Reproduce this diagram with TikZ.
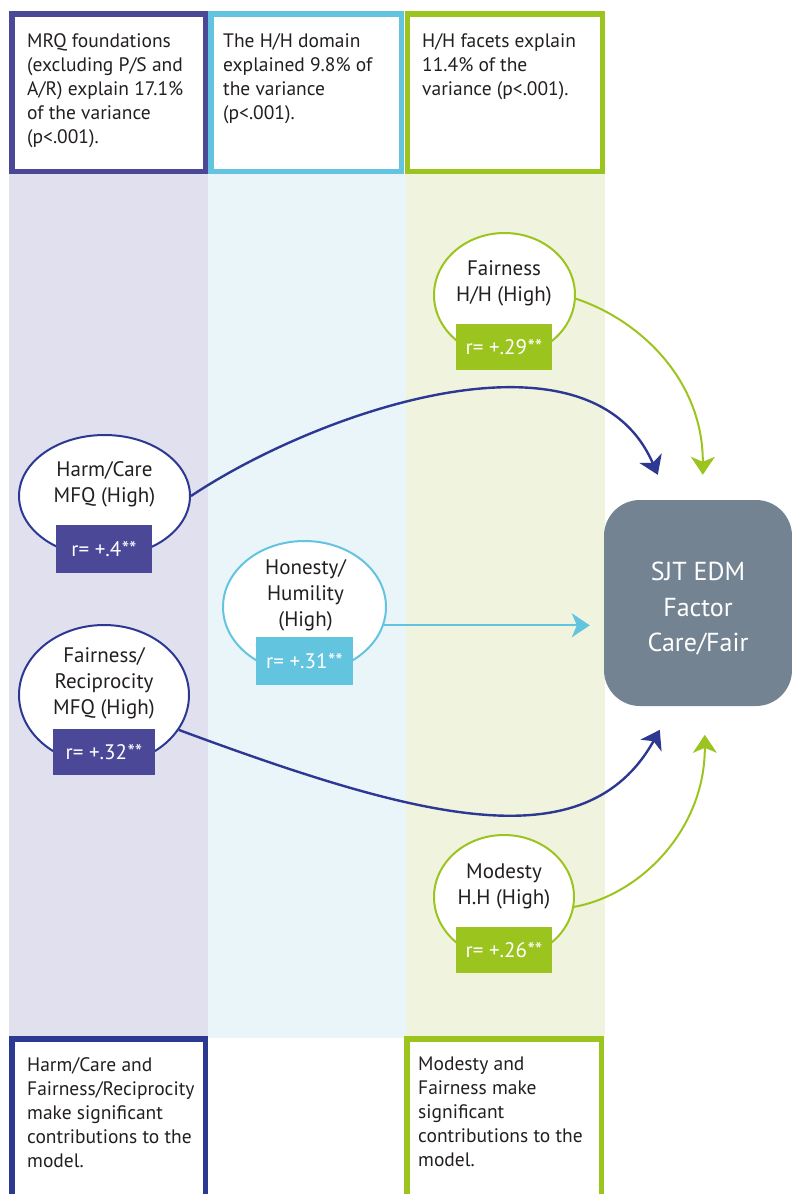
\documentclass[tikz,border=0pt]{standalone}
\usepackage{fontspec}
\setmainfont{PT Sans}
\usetikzlibrary{shapes.geometric,arrows.meta,calc}
\definecolor{mfqpurple}{RGB}{76,72,152}
\definecolor{navy}{RGB}{44,56,145}
\definecolor{hhcyan}{RGB}{99,196,224}
\definecolor{hhgreen}{RGB}{155,196,30}
\definecolor{lav}{RGB}{225,224,238}
\definecolor{paleblue}{RGB}{234,245,249}
\definecolor{palegreen}{RGB}{240,244,223}
\definecolor{slate}{RGB}{116,131,145}
\definecolor{ink}{RGB}{35,31,32}
% significance marks: the font's asterisk already sits high
\newcommand{\stars}{\kern0.5pt**}

\begin{document}
\begin{tikzpicture}[x=1pt,y=-1pt,
  panel/.style={draw, line width=5.5pt, outer sep=0pt, inner sep=0pt},
  note/.style={anchor=north west, inner sep=0pt, align=left,
    font=\fontsize{19.5}{24}\selectfont, text=ink},
  factor/.style={ellipse, draw, fill=white, line width=2pt, inner sep=0pt},
  factortext/.style={align=center, inner sep=0pt,
    font=\fontsize{21}{26}\selectfont, text=ink},
  rbox/.style={inner sep=0pt, text=white, font=\fontsize{21}{24}\selectfont},
  link/.style={line width=2.4pt, -{Stealth[length=18pt,width=24pt,inset=5pt]}},
]
\useasboundingbox (0,0) rectangle (792,1194);
\clip (0,0) rectangle (792,1194);

% column backgrounds
\fill[lav]       (9,174)   rectangle (208,1036);
\fill[paleblue]  (208,174) rectangle (406,1038);
\fill[palegreen] (406,174) rectangle (605,1036);

% header panels
\node[panel, draw=mfqpurple, minimum width=193.5, minimum height=157.5] (topA) at (108.5,92.5) {};
\node[panel, draw=hhcyan,    minimum width=190.5, minimum height=157.5] (topB) at (306,92.5) {};
\node[panel, draw=hhgreen,   minimum width=195,   minimum height=157.5] (topC) at (504.75,92.5) {};
\node[note] (topAtext) at (27,33) {MRQ foundations\\(excluding P/S and\\A/R) explain 17.1\%\\of the variance\\(p<.001).};
\node[note] (topBtext) at (223,33) {The H/H domain\\explained 9.8\% of\\the variance\\(p<.001).};
\node[note] (topCtext) at (422,33) {H/H facets explain\\11.4\% of the\\variance (p<.001).};

% footer panels
\node[panel, draw=navy,    minimum width=193.5, minimum height=171.25] (botA) at (108.5,1124.4) {};
\node[panel, draw=hhgreen, minimum width=194.5, minimum height=171.25] (botC) at (504,1124.4) {};
\node[note] (botAtext) at (27,1057) {Harm/Care and\\Fairness/Reciprocity\\make significant\\contributions to the\\model.};
\node[note] (botCtext) at (418,1057) {Modesty and\\Fairness make\\significant\\contributions to the\\model.};

% outcome
\node[fill=slate, rounded corners=36pt, minimum width=188, minimum height=206,
      inner sep=0pt] (sjt) at (698,603) {};
\node[align=center, inner sep=0pt, text=white, font=\fontsize{26}{35.5}\selectfont]
      (sjtT) at (698,609) {SJT EDM\\Factor\\Care/Fair};

% predictors
\node[factor, draw=navy, minimum width=171, minimum height=122] (hc) at (104.5,496) {};
\node[rbox, fill=mfqpurple, minimum width=96, minimum height=48] (hcR) at (104,549) {r= +.4\stars};
\node[factortext] (hcT) at (104.5,484) {Harm/Care\\MFQ (High)};

\node[factor, draw=navy, minimum width=170, minimum height=140] (frc) at (104,695) {};
\node[rbox, fill=mfqpurple, minimum width=102, minimum height=46] (frcR) at (104,752) {r= +.32\stars};
\node[factortext] (frcT) at (104,683) {Fairness/\\Reciprocity\\MFQ (High)};

\node[factor, draw=hhcyan, minimum width=163, minimum height=132] (hh) at (304.5,607) {};
\node[rbox, fill=hhcyan, minimum width=97, minimum height=48] (hhR) at (304.5,661) {r= +.31\stars};
\node[factortext] (hhT) at (305.5,595) {Honesty/\\Humility\\(High)};

\node[factor, draw=hhgreen, minimum width=141, minimum height=124] (fhh) at (504.5,295) {};
\node[rbox, fill=hhgreen, minimum width=96, minimum height=46] (fhhR) at (504,347) {r= +.29\stars};
\node[factortext] (fhhT) at (504,283) {Fairness\\H/H (High)};

\node[factor, draw=hhgreen, minimum width=140, minimum height=124] (mod) at (504,897) {};
\node[rbox, fill=hhgreen, minimum width=96, minimum height=46] (modR) at (504,950) {r= +.26\stars};
\node[factortext] (modT) at (504,886) {Modesty\\H.H (High)};

% arrow targets around the outcome box
\coordinate (inHC)  at ($(sjt.north west)+(54,-25)$);
\coordinate (inFHH) at ($(sjt.north west)+(99,-25)$);
\coordinate (inHH)  at ($(sjt.north west)+(-14,0)$);
\coordinate (inFR)  at ($(sjt.north west)+(56,230)$);
\coordinate (inMod) at ($(sjt.north west)+(101,235)$);

% connectors
\draw[link, navy] (hc.east) .. controls (320,410) and (590,318) .. (inHC);
\draw[link, hhgreen, line width=2pt] (fhh.-3) .. controls (640,320) and (703,380) .. (inFHH);
\draw[link, hhcyan, line width=2pt] (hh.-13) -- (hh.-13 -| inHH);
\draw[link, navy] (frc.-25) .. controls (422,820) and (586,862) .. (inFR);
\draw[link, hhgreen, line width=2pt] (mod.-8) .. controls (640,895) and (705,830) .. (inMod);
\end{tikzpicture}
\end{document}
